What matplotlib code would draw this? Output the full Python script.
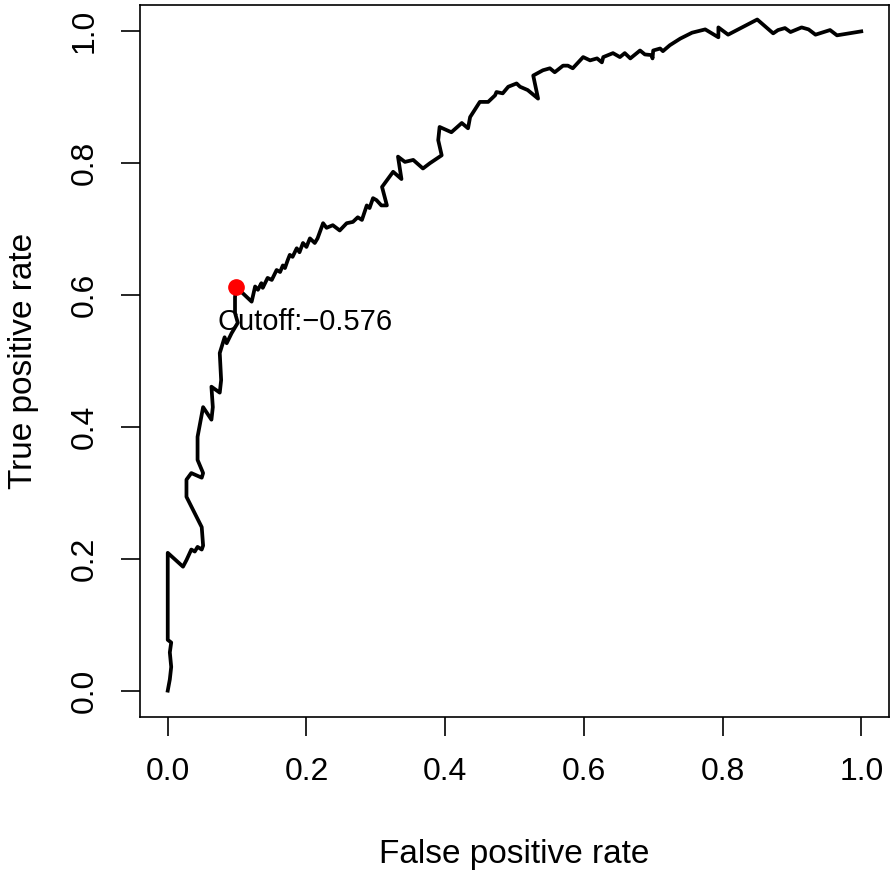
import matplotlib
matplotlib.use("Agg")
import matplotlib.pyplot as plt

plt.rcParams['font.family'] = ['Liberation Sans', 'DejaVu Sans']

fpr = [0.000, 0.003, 0.005, 0.003, 0.005, 0.000, 0.000, 0.022, 0.027, 0.034, 0.039, 0.043,
       0.049, 0.051, 0.049, 0.027, 0.027, 0.034, 0.049, 0.051, 0.043, 0.043, 0.051, 0.063,
       0.065, 0.063, 0.075, 0.077, 0.075, 0.082, 0.085, 0.092, 0.101, 0.097, 0.097, 0.099,
       0.121, 0.126, 0.130, 0.135, 0.137, 0.144, 0.150, 0.157, 0.162, 0.166, 0.169, 0.173,
       0.176, 0.180, 0.186, 0.190, 0.195, 0.200, 0.205, 0.212, 0.216, 0.224, 0.229, 0.238,
       0.248, 0.258, 0.267, 0.274, 0.280, 0.287, 0.291, 0.296, 0.301, 0.308, 0.316, 0.309,
       0.325, 0.337, 0.332, 0.342, 0.354, 0.368, 0.378, 0.395, 0.390, 0.392, 0.409, 0.424,
       0.433, 0.436, 0.450, 0.462, 0.472, 0.474, 0.483, 0.491, 0.503, 0.508, 0.519, 0.534,
       0.527, 0.541, 0.551, 0.558, 0.570, 0.577, 0.584, 0.599, 0.609, 0.619, 0.626, 0.628,
       0.642, 0.652, 0.659, 0.667, 0.681, 0.688, 0.698, 0.699, 0.700, 0.710, 0.714, 0.724,
       0.739, 0.756, 0.775, 0.794, 0.794, 0.799, 0.808, 0.850, 0.873, 0.880, 0.890, 0.898,
       0.914, 0.924, 0.934, 0.955, 0.965, 1.000]
tpr = [0.000, 0.017, 0.036, 0.058, 0.073, 0.077, 0.209, 0.188, 0.198, 0.214, 0.211, 0.218,
       0.214, 0.220, 0.248, 0.294, 0.320, 0.330, 0.323, 0.330, 0.350, 0.385, 0.430, 0.411,
       0.430, 0.461, 0.452, 0.471, 0.512, 0.536, 0.527, 0.542, 0.558, 0.573, 0.597, 0.612,
       0.590, 0.613, 0.608, 0.618, 0.611, 0.626, 0.623, 0.638, 0.635, 0.645, 0.641, 0.653,
       0.661, 0.658, 0.671, 0.665, 0.679, 0.673, 0.686, 0.679, 0.686, 0.709, 0.702, 0.706,
       0.698, 0.709, 0.711, 0.718, 0.714, 0.736, 0.732, 0.747, 0.744, 0.736, 0.736, 0.764,
       0.787, 0.776, 0.810, 0.802, 0.805, 0.792, 0.800, 0.812, 0.835, 0.855, 0.847, 0.861,
       0.853, 0.870, 0.893, 0.893, 0.903, 0.908, 0.906, 0.916, 0.921, 0.916, 0.911, 0.898,
       0.933, 0.941, 0.944, 0.938, 0.948, 0.948, 0.944, 0.961, 0.956, 0.959, 0.953, 0.961,
       0.967, 0.961, 0.967, 0.959, 0.971, 0.965, 0.964, 0.959, 0.971, 0.974, 0.970, 0.979,
       0.989, 0.998, 1.003, 0.991, 1.006, 1.002, 0.995, 1.018, 0.997, 1.002, 1.005, 0.999,
       1.006, 1.003, 0.995, 1.002, 0.994, 1.000]

cutoff_fpr = 0.099
cutoff_tpr = 0.612
cutoff_label = "Cutoff:\u22120.576"
ticks = [0.0, 0.2, 0.4, 0.6, 0.8, 1.0]
tick_labels = ["0.0", "0.2", "0.4", "0.6", "0.8", "1.0"]

fig = plt.figure(figsize=(8.94, 8.77), dpi=100)
ax = fig.add_axes([140/894, 1 - 717/877, 749/894, 712/877])

ax.plot(fpr, tpr, color='black', lw=2.7, solid_joinstyle='round', zorder=2)
ax.plot([cutoff_fpr], [cutoff_tpr], 'o', color='#ff0000', markersize=11, zorder=3)
ax.text(cutoff_fpr - 0.027, cutoff_tpr - 0.053, cutoff_label, fontsize=21,
        ha='left', va='center', zorder=4)

ax.set_xlim(-0.04, 1.04)
ax.set_ylim(-0.04, 1.04)
ax.set_xticks(ticks)
ax.set_xticklabels(tick_labels)
ax.set_yticks(ticks)
ax.set_yticklabels(tick_labels, rotation=90, va='center')
ax.tick_params(axis='both', length=14, width=1.2, labelsize=23, pad=15, direction='out')
for s in ax.spines.values():
    s.set_linewidth(1.2)

ax.set_xlabel("False positive rate", fontsize=24)
ax.set_ylabel("True positive rate", fontsize=24)
ax.xaxis.set_label_coords(0.5, (717 - 855) / 712)
ax.yaxis.set_label_coords((24 - 140) / 749, 0.5)
ax.xaxis.label.set_va('center')
ax.yaxis.label.set_va('center')

fig.savefig("out.png", dpi=100)
